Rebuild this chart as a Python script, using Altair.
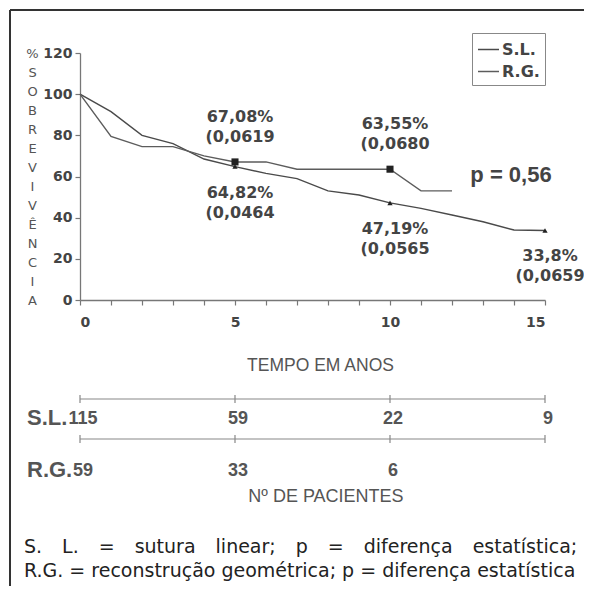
import altair as alt
import pandas as pd

# ---- data ----
sl_years = list(range(16))
sl_values = [100, 91.5, 80, 76, 68.5, 64.82, 61.5, 59, 53, 51, 47.19, 44.5, 41.3, 38, 34, 33.8]
rg_years = list(range(13))
rg_values = [100, 79.5, 74.5, 74.5, 70, 67.08, 67.08, 63.55, 63.55, 63.55, 63.55, 53, 53]

rg_mark_years = [5, 10]
rg_mark_values = [67.08, 63.55]
rg_mark_se = ["0,0619", "0,0680"]
sl_mark_years = [5, 10, 15]
sl_mark_values = [64.82, 47.19, 33.8]
sl_mark_se = ["0,0464", "0,0565", "0,0659"]

risk_years = [0, 5, 10, 15]
sl_patients = [115, 59, 22, 9]
rg_patients = [59, 33, 6]

y_ticks = [0, 20, 40, 60, 80, 100, 120]
x_ticks = list(range(16))
groups = ["S.L.", "R.G."]
y_title = ["%", "S", "O", "B", "R", "E", "V", "I", "V", "Ê", "N", "C", "I", "A"]

GAP = "\u00a0\u00a0\u00a0\u200a"
footer1 = GAP.join(["S.", "L.", "=", "sutura", "linear;", "p", "=", "diferença", "estatística;"])
footer2 = "R.G. = reconstrução geométrica; p = diferença estatística"

# ---- tables ----
curves = pd.DataFrame({
    "ano": sl_years + rg_years,
    "sobrevivencia": sl_values + rg_values,
    "grupo": [groups[0]] * len(sl_years) + [groups[1]] * len(rg_years),
})


def fmt(v, se):
    return str(v).replace(".", ",") + "%\n(" + se


rg_marks = pd.DataFrame({"ano": rg_mark_years, "sobrevivencia": rg_mark_values,
                         "rotulo": [fmt(v, s) for v, s in zip(rg_mark_values, rg_mark_se)]})
sl_marks = pd.DataFrame({"ano": sl_mark_years, "sobrevivencia": sl_mark_values,
                         "rotulo": [fmt(v, s) for v, s in zip(sl_mark_values, sl_mark_se)]})
risk_axis = pd.DataFrame({"ano": risk_years})
risk_sl = pd.DataFrame({"ano": risk_years, "pacientes": sl_patients})
risk_rg = pd.DataFrame({"ano": risk_years[:len(rg_patients)], "pacientes": rg_patients})
one = pd.DataFrame({"k": [0]})

AX = "#777777"
TXT = "#444444"

X = alt.X(
    "ano:Q",
    scale=alt.Scale(domain=[0, 15], nice=False, zero=False),
    axis=alt.Axis(
        values=x_ticks, labelExpr="datum.value % 5 == 0 ? datum.label : ''",
        tickSize=5, tickColor=AX, tickWidth=1.2, domainColor=AX, domainWidth=1.3,
        labelPadding=10, labelFont="DejaVu Sans", labelFontSize=14, labelFontWeight="bold",
        labelColor=TXT, grid=False,
        title="TEMPO EM ANOS", titleFont="Liberation Sans", titleFontSize=17.5,
        titleFontWeight="normal", titleColor="#555555", titleX=240, titleY=65,
        titleAlign="center", titleBaseline="middle",
    ),
)
Y = alt.Y(
    "sobrevivencia:Q",
    scale=alt.Scale(domain=[0, 120], nice=False),
    axis=alt.Axis(
        values=y_ticks, tickSize=5, tickColor=AX, tickWidth=1.2, domainColor=AX,
        domainWidth=1.3, labelPadding=3, labelFont="DejaVu Sans", labelFontSize=14,
        labelFontWeight="bold", labelColor=TXT, grid=False,
        title=y_title, titleAngle=0, titleFont="DejaVu Sans", titleFontSize=13,
        titleFontWeight="normal", titleColor="#555555", titleLineHeight=19,
        titleX=-48, titleY=0, titleAlign="center", titleBaseline="middle",
    ),
)

lines = alt.Chart(curves).mark_line(strokeWidth=1.4).encode(
    x=X, y=Y,
    color=alt.Color(
        "grupo:N",
        scale=alt.Scale(domain=groups, range=["#4a4a4a", "#5c5c5c"]),
        legend=alt.Legend(
            title=None, orient="none", legendX=392, legendY=-20,
            strokeColor="#888888", fillColor="white", padding=5,
            symbolType="stroke", symbolSize=441, symbolStrokeWidth=1.5,
            labelFont="DejaVu Sans", labelFontSize=16, labelFontWeight="bold",
            labelColor=TXT, rowPadding=2, labelOffset=2,
        ),
    ),
    order="ano:Q",
)

rg_pts = alt.Chart(rg_marks).mark_point(shape="square", filled=True, size=50, color="#222222", opacity=1).encode(x=X, y=Y)
sl_pts = alt.Chart(sl_marks).mark_point(shape="triangle-up", filled=True, size=28, color="#222222", opacity=1).encode(x=X, y=Y)

text_style = dict(font="DejaVu Sans", fontSize=16, fontWeight="bold", color=TXT,
                  lineBreak="\n", lineHeight=20, align="center", baseline="middle", dx=5)
rg_lbl = alt.Chart(rg_marks).mark_text(dy=-45, **text_style).encode(x=X, y=Y, text="rotulo:N")
sl_lbl = alt.Chart(sl_marks).mark_text(dy=26, **text_style).encode(x=X, y=Y, text="rotulo:N")

p_txt = alt.Chart(one).mark_text(font="Liberation Sans", fontSize=22, fontWeight="bold",
                                 color=TXT, align="center", baseline="middle").encode(
    x=alt.value(431), y=alt.value(122), text=alt.value("p = 0,56"))

# ---- number-at-risk table ----
row_line = dict(color="#888888", strokeWidth=1.2)
sl_row_line = alt.Chart(risk_axis).mark_line(**row_line).encode(x=X, y=alt.value(346))
sl_row_ticks = alt.Chart(risk_axis).mark_rule(**row_line).encode(x=X, y=alt.value(342), y2=alt.value(350))
rg_row_line = alt.Chart(risk_axis).mark_line(**row_line).encode(x=X, y=alt.value(386))
rg_row_ticks = alt.Chart(risk_axis).mark_rule(**row_line).encode(x=X, y=alt.value(382), y2=alt.value(390))

num_style = dict(font="Liberation Sans", fontSize=18, fontWeight="bold", color="#555555",
                 align="center", baseline="middle", dx=3)
sl_nums = alt.Chart(risk_sl).mark_text(**num_style).encode(x=X, y=alt.value(366), text="pacientes:Q")
rg_nums = alt.Chart(risk_rg).mark_text(**num_style).encode(x=X, y=alt.value(418), text="pacientes:Q")

row_lbl_style = dict(font="Liberation Sans", fontSize=22, fontWeight="bold", color="#555555",
                     align="left", baseline="middle")
sl_row_lbl = alt.Chart(one).mark_text(**row_lbl_style).encode(x=alt.value(-53), y=alt.value(365), text=alt.value("S.L."))
rg_row_lbl = alt.Chart(one).mark_text(**row_lbl_style).encode(x=alt.value(-53), y=alt.value(417), text=alt.value("R.G."))

pac_title = alt.Chart(one).mark_text(font="Liberation Sans", fontSize=18, color="#555555",
                                     align="center", baseline="middle").encode(
    x=alt.value(246), y=alt.value(444), text=alt.value("Nº DE PACIENTES"))

foot_style = dict(font="DejaVu Sans", fontSize=19, color="#222222", align="left", baseline="middle")
foot1 = alt.Chart(one).mark_text(**foot_style).encode(x=alt.value(-56), y=alt.value(494), text=alt.value(footer1))
foot2 = alt.Chart(one).mark_text(**foot_style).encode(x=alt.value(-56), y=alt.value(518), text=alt.value(footer2))

# ---- frame (top and left edges of the figure box) ----
frame_style = dict(color="#333333", strokeWidth=2)
frame_top = alt.Chart(one).mark_rule(**frame_style).encode(x=alt.value(-70), x2=alt.value(520), y=alt.value(-43))
frame_left = alt.Chart(one).mark_rule(**frame_style).encode(x=alt.value(-70), y=alt.value(-43), y2=alt.value(540))

chart = alt.layer(
    frame_top, frame_left,
    lines, rg_pts, sl_pts, rg_lbl, sl_lbl, p_txt,
    sl_row_line, sl_row_ticks, rg_row_line, rg_row_ticks,
    sl_nums, rg_nums, sl_row_lbl, rg_row_lbl, pac_title,
    foot1, foot2,
).properties(
    width=465, height=247,
    autosize=alt.AutoSizeParams(type="none"),
    padding={"left": 72, "top": 45, "right": 39, "bottom": 286},
    background="white",
).configure_view(stroke="transparent")

chart.save("out.html", embed_options={"renderer": "svg", "actions": False})
